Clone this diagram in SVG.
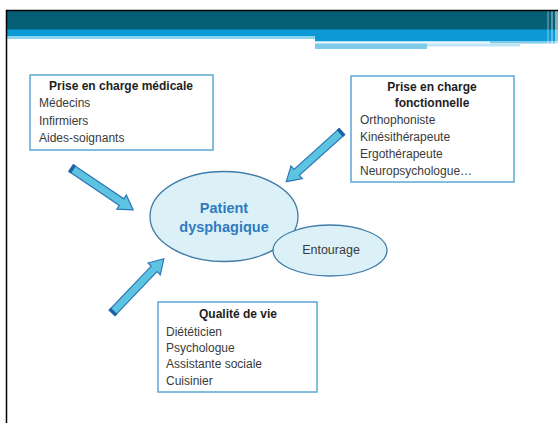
<svg xmlns="http://www.w3.org/2000/svg" width="558" height="423" viewBox="0 0 558 423">
<style>
.box{fill:#fff;stroke:#5aa8d2;stroke-width:1.5}
.t{font-family:"Liberation Sans",Arial,sans-serif;font-size:12px;fill:#3a3a3a}
.h{font-family:"Liberation Sans",Arial,sans-serif;font-size:12px;font-weight:bold;fill:#1e1e1e;text-anchor:middle}
.ell{fill:#dcf0f8;stroke:#3f7ca8;stroke-width:1.3}
.arr{fill:#5cc4e1;stroke:#2f78b8;stroke-width:1.2;stroke-linejoin:miter}
</style>
<defs>
<g id="blockArrow">
<path class="arr" d="M0,-4 L61,-4 L61,-8.5 L75,0 L61,8.5 L61,4 L0,4 Z"/>
<rect x="0" y="-4.6" width="3" height="9.2" fill="#1f5fa0"/>
</g>
</defs>
<rect width="558" height="423" fill="#ffffff"/>
<g id="header">
<rect x="7" y="11" width="551" height="19" fill="#055f77"/>
<rect x="7" y="29.5" width="551" height="6.5" fill="#0b9ad6"/>
<rect x="7" y="36" width="308" height="3" fill="#8ed3ee"/>
<rect x="315" y="36" width="243" height="5.5" fill="#0b9ad6"/>
<rect x="315" y="41.5" width="175" height="2" fill="#e3f5fb"/>
<rect x="490" y="41.5" width="68" height="2" fill="#7fcbea"/>
<rect x="315" y="43.5" width="112" height="5.5" fill="#7fcbea"/>
<rect x="427" y="43.5" width="93" height="3" fill="#bfe5f4"/>
<rect x="547" y="11" width="2" height="36" fill="#ffffff" opacity="0.25"/>
<rect x="551" y="11" width="2" height="36" fill="#ffffff" opacity="0.35"/>
<rect x="555" y="11" width="3" height="36" fill="#ffffff" opacity="0.5"/>
<line x1="6" y1="10.5" x2="558" y2="10.5" stroke="#000" stroke-width="1.5"/>
<line x1="6.5" y1="10" x2="6.5" y2="423" stroke="#000" stroke-width="1.5"/>
</g>
<g id="connectors">
<use href="#blockArrow" transform="translate(71,168) rotate(34)"/>
<use href="#blockArrow" transform="translate(342,131.5) rotate(138)"/>
<use href="#blockArrow" transform="translate(112,313) rotate(-46.3)"/>
</g>
<g id="node-medicale">
<rect class="box" x="30" y="75" width="183" height="75"/>
<text class="h" x="121" y="90">Prise en charge médicale</text>
<text class="t" x="39" y="107">Médecins</text>
<text class="t" x="39" y="124.5">Infirmiers</text>
<text class="t" x="39" y="141.5">Aides-soignants</text>
</g>
<g id="node-fonctionnelle">
<rect class="box" x="351" y="76" width="163" height="106"/>
<text class="h" x="432" y="90.5">Prise en charge</text>
<text class="h" x="432" y="107">fonctionnelle</text>
<text class="t" x="360" y="124">Orthophoniste</text>
<text class="t" x="360" y="141">Kinésithérapeute</text>
<text class="t" x="360" y="158">Ergothérapeute</text>
<text class="t" x="360" y="174.5">Neuropsychologue…</text>
</g>
<g id="node-qualite">
<rect class="box" x="158" y="302" width="159" height="90"/>
<text class="h" x="238" y="318">Qualité de vie</text>
<text class="t" x="166" y="335.5">Diététicien</text>
<text class="t" x="166" y="352">Psychologue</text>
<text class="t" x="166" y="368">Assistante sociale</text>
<text class="t" x="166" y="384.5">Cuisinier</text>
</g>
<g id="node-patient">
<ellipse class="ell" cx="224" cy="216.5" rx="74" ry="45"/>
<text x="224" y="213" text-anchor="middle" font-family="Liberation Sans, Arial, sans-serif" font-size="14.5" font-weight="bold" fill="#2f7bbf">Patient</text>
<text x="224" y="232" text-anchor="middle" font-family="Liberation Sans, Arial, sans-serif" font-size="14.5" font-weight="bold" fill="#2f7bbf">dysphagique</text>
</g>
<g id="node-entourage">
<ellipse class="ell" cx="330" cy="250.5" rx="57" ry="25.5"/>
<text x="331" y="254" text-anchor="middle" font-family="Liberation Sans, Arial, sans-serif" font-size="12.5" fill="#3a3a3a">Entourage</text>
</g>
</svg>
